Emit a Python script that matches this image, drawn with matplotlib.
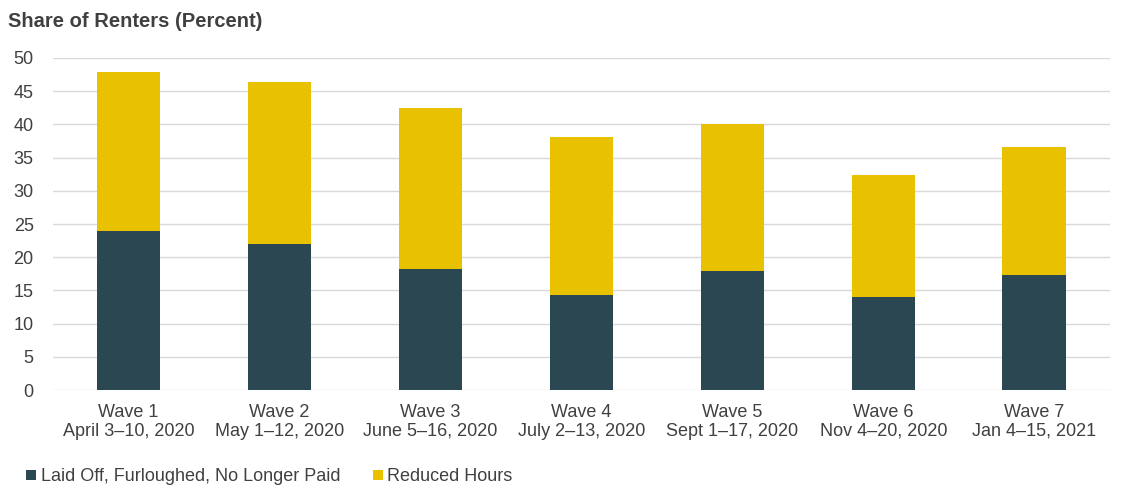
import matplotlib.pyplot as plt
import numpy as np

plt.rcParams['font.family'] = ['Liberation Sans', 'DejaVu Sans']

waves = ["Wave 1", "Wave 2", "Wave 3", "Wave 4", "Wave 5", "Wave 6", "Wave 7"]
dates = ["April 3\u201310, 2020", "May 1\u201312, 2020", "June 5\u201316, 2020",
         "July 2\u201313, 2020", "Sept 1\u201317, 2020", "Nov 4\u201320, 2020",
         "Jan 4\u201315, 2021"]
laid_off = [24.0, 22.0, 18.2, 14.3, 17.9, 14.0, 17.3]
reduced_hours = [23.9, 24.4, 24.3, 23.8, 22.2, 18.4, 19.3]

dark = "#2B4752"
gold = "#E8C100"
text_color = "#404040"

fig = plt.figure(figsize=(11.3, 4.87), dpi=100)
ax = fig.add_axes([0.047, 0.199, 0.935, 0.682])

x = np.arange(len(waves))
ax.bar(x, laid_off, width=0.42, color=dark, zorder=3,
       label="Laid Off, Furloughed, No Longer Paid")
ax.bar(x, reduced_hours, width=0.42, bottom=laid_off, color=gold, zorder=3,
       label="Reduced Hours")

ax.set_ylim(0, 50)
ax.set_xlim(-0.5, len(waves) - 0.5)
ax.set_yticks(range(0, 51, 5))
ax.set_xticks(x)
ax.set_xticklabels([f"{w}\n{d}" for w, d in zip(waves, dates)],
                   fontsize=13, color=text_color, linespacing=1.15)
ax.tick_params(axis='y', labelsize=13, labelcolor=text_color, length=0, pad=14)
ax.tick_params(axis='x', length=0, pad=10)
ax.grid(axis='y', color="#D9D9D9", linewidth=1, zorder=0)
for s in ax.spines.values():
    s.set_visible(False)

fig.text(0.007, 0.955, "Share of Renters (Percent)", fontsize=14.5,
         fontweight='bold', color=text_color, va='center')

leg = fig.legend(loc='lower left', bbox_to_anchor=(0.009, -0.03), ncol=2,
                 frameon=False, fontsize=13, handlelength=0.55, handleheight=0.55,
                 handletextpad=0.25, columnspacing=1.8)
for t in leg.get_texts():
    t.set_color(text_color)

fig.savefig("out.png", dpi=100)
